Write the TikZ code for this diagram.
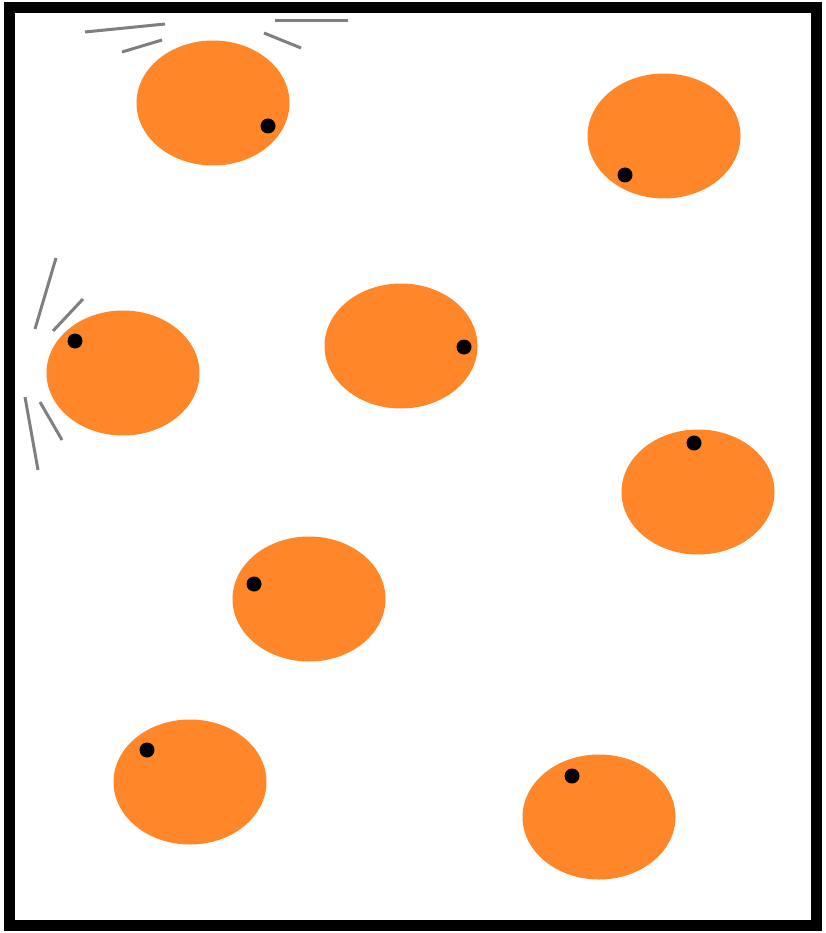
\documentclass[tikz,border=0pt]{standalone}
\usetikzlibrary{shapes.geometric}
\usepackage{xcolor}
\definecolor{ballor}{HTML}{FF8629}
\definecolor{motion}{HTML}{7F7F7F}

\begin{document}
\begin{tikzpicture}[
  x=1pt, y=-1pt,
  ball/.style={ellipse, fill=ballor, draw=none, minimum width=153pt, minimum height=125pt, inner sep=0pt},
  spot/.style={circle, fill=black, minimum size=15pt, inner sep=0pt},
  frame/.style={draw=black, line width=11pt},
  streak/.style={draw=motion, line width=3pt},
]
\useasboundingbox (0,0) rectangle (825,933);

\draw[frame] (9,8) rectangle (816,925);

% balls
\node[ball] (b1) at (213,103) {};
\node[ball] (b2) at (664,136) {};
\node[ball] (b3) at (123,373) {};
\node[ball] (b4) at (401,346) {};
\node[ball] (b5) at (698,492) {};
\node[ball] (b6) at (309,599) {};
\node[ball] (b7) at (190,782) {};
\node[ball] (b8) at (599,817) {};

% spots
\node[spot] (s1) at (268,126) {};
\node[spot] (s2) at (625,175) {};
\node[spot] (s3) at (75,341) {};
\node[spot] (s4) at (464,347) {};
\node[spot] (s5) at (694,443) {};
\node[spot] (s6) at (254,584) {};
\node[spot] (s7) at (147,750) {};
\node[spot] (s8) at (572,776) {};

% motion lines
\draw[streak] (85,32) -- (165,24);
\draw[streak] (122,52) -- (162,40);
\draw[streak] (275,21) -- (348,21);
\draw[streak] (264,33) -- (301,48);
\draw[streak] (56,258) -- (35,329);
\draw[streak] (83,299) -- (53,331);
\draw[streak] (25,397) -- (38,470);
\draw[streak] (40,402) -- (62,440);

\end{tikzpicture}
\end{document}
